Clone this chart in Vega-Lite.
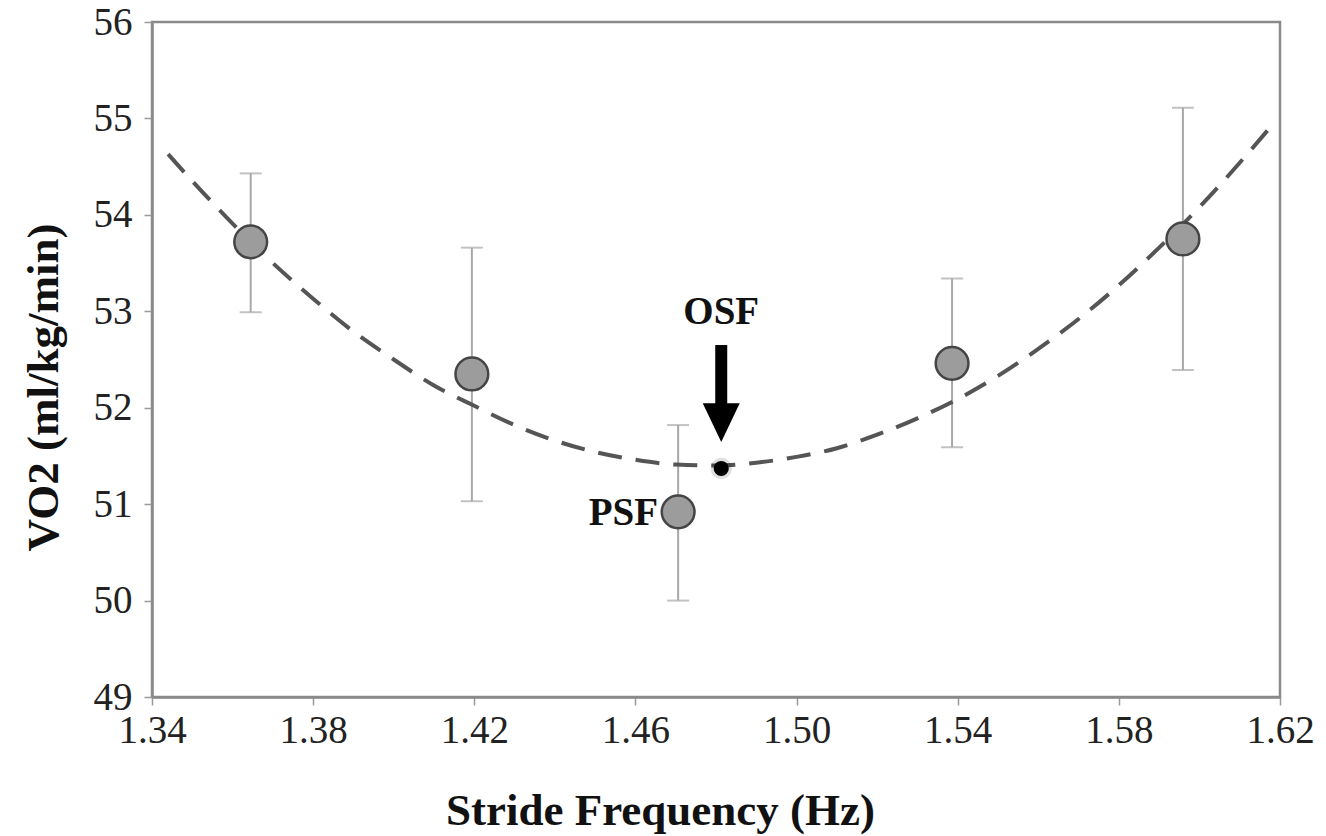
{
  "$schema": "https://vega.github.io/schema/vega-lite/v6.json",
  "autosize": {"type": "none"},
  "width": 1128,
  "height": 675,
  "padding": {"left": 152, "top": 22, "right": 46, "bottom": 139},
  "background": "white",
  "config": {
    "view": {"stroke": "#8a8a8a", "strokeWidth": 2.5},
    "font": "Liberation Serif",
    "axis": {
      "grid": false,
      "domainColor": "#8a8a8a",
      "domainWidth": 2.5,
      "tickColor": "#9a9a9a",
      "tickWidth": 1.5,
      "tickSize": 8,
      "labelFont": "Liberation Serif",
      "labelFontSize": 39,
      "labelColor": "#222222",
      "titleFont": "Liberation Serif",
      "titleFontWeight": "bold",
      "titleFontSize": 45,
      "titleColor": "#111111"
    }
  },
  "datasets": {
    "points": [
      {"sf": 1.3645, "vo2": 53.72, "lo": 52.99, "hi": 54.43},
      {"sf": 1.4194, "vo2": 52.35, "lo": 51.03, "hi": 53.66},
      {"sf": 1.4706, "vo2": 50.92, "lo": 50.0, "hi": 51.82},
      {"sf": 1.5386, "vo2": 52.46, "lo": 51.59, "hi": 53.34},
      {"sf": 1.5959, "vo2": 53.75, "lo": 52.39, "hi": 55.11}
    ],
    "fit": [
      {"sf": 1.344, "vo2": 54.63},
      {"sf": 1.35, "vo2": 54.35},
      {"sf": 1.36, "vo2": 53.91},
      {"sf": 1.37, "vo2": 53.5},
      {"sf": 1.38, "vo2": 53.13},
      {"sf": 1.39, "vo2": 52.79},
      {"sf": 1.4, "vo2": 52.5},
      {"sf": 1.41, "vo2": 52.23},
      {"sf": 1.42, "vo2": 52.02},
      {"sf": 1.43, "vo2": 51.82},
      {"sf": 1.44, "vo2": 51.66},
      {"sf": 1.45, "vo2": 51.54},
      {"sf": 1.46, "vo2": 51.46},
      {"sf": 1.47, "vo2": 51.41},
      {"sf": 1.48, "vo2": 51.4},
      {"sf": 1.49, "vo2": 51.43},
      {"sf": 1.5, "vo2": 51.49},
      {"sf": 1.51, "vo2": 51.58},
      {"sf": 1.52, "vo2": 51.72},
      {"sf": 1.53, "vo2": 51.89},
      {"sf": 1.54, "vo2": 52.09},
      {"sf": 1.55, "vo2": 52.33},
      {"sf": 1.56, "vo2": 52.61},
      {"sf": 1.57, "vo2": 52.92},
      {"sf": 1.58, "vo2": 53.27},
      {"sf": 1.59, "vo2": 53.66},
      {"sf": 1.6, "vo2": 54.08},
      {"sf": 1.61, "vo2": 54.54},
      {"sf": 1.617, "vo2": 54.88}
    ],
    "osf": [{"sf": 1.4813, "vo2": 51.37, "shaftTop": 52.65, "shaftEnd": 52.0, "head": 51.845}],
    "osfLabel": [{"sf": 1.4813, "vo2": 52.99, "text": "OSF"}],
    "psfLabel": [{"sf": 1.4656, "vo2": 50.91, "text": "PSF"}]
  },
  "encoding": {
    "x": {
      "field": "sf",
      "type": "quantitative",
      "scale": {"domain": [1.34, 1.62], "nice": false, "zero": false},
      "axis": {
        "title": "Stride Frequency (Hz)",
        "values": [1.34, 1.38, 1.42, 1.46, 1.5, 1.54, 1.58, 1.62],
        "format": ".2f",
        "labelFont": "Liberation Serif",
        "labelFlush": false,
        "labelOverlap": false,
        "labelPadding": 6,
        "titleX": 508,
        "titleY": 113,
        "titleBaseline": "middle"
      }
    },
    "y": {
      "field": "vo2",
      "type": "quantitative",
      "scale": {"domain": [49, 56], "nice": false, "zero": false},
      "axis": {
        "title": "VO2 (ml/kg/min)",
        "values": [49, 50, 51, 52, 53, 54, 55, 56],
        "labelFont": "Liberation Serif",
        "labelFlush": false,
        "labelOverlap": false,
        "labelPadding": 12,
        "titleX": -109,
        "titleY": 365,
        "titleBaseline": "middle"
      }
    }
  },
  "layer": [
    {
      "data": {"name": "points"},
      "mark": {"type": "rule", "color": "#a8a8a8", "strokeWidth": 2},
      "encoding": {"y": {"field": "lo", "type": "quantitative"}, "y2": {"field": "hi"}}
    },
    {
      "data": {"name": "points"},
      "mark": {"type": "tick", "orient": "horizontal", "color": "#a8a8a8", "thickness": 2, "size": 22},
      "encoding": {"y": {"field": "hi", "type": "quantitative"}}
    },
    {
      "data": {"name": "points"},
      "mark": {"type": "tick", "orient": "horizontal", "color": "#a8a8a8", "thickness": 2, "size": 22},
      "encoding": {"y": {"field": "lo", "type": "quantitative"}}
    },
    {
      "data": {"name": "fit"},
      "mark": {"type": "line", "color": "#555555", "strokeWidth": 4, "strokeDash": [24, 14], "interpolate": "monotone"},
      "encoding": {}
    },
    {
      "data": {"name": "points"},
      "mark": {"type": "point", "shape": "circle", "filled": true, "size": 1075, "fill": "#9c9c9c", "stroke": "#454545", "strokeWidth": 2.5, "opacity": 1}
    },
    {
      "data": {"name": "osf"},
      "mark": {"type": "point", "shape": "circle", "filled": true, "size": 450, "color": "#000000", "opacity": 0.12}
    },
    {
      "data": {"name": "osf"},
      "mark": {"type": "point", "shape": "circle", "filled": true, "size": 230, "color": "#000000", "opacity": 1}
    },
    {
      "data": {"name": "osf"},
      "mark": {"type": "rule", "color": "#000000", "strokeWidth": 12},
      "encoding": {"y": {"field": "shaftTop", "type": "quantitative"}, "y2": {"field": "shaftEnd"}}
    },
    {
      "data": {"name": "osf"},
      "mark": {"type": "point", "shape": "M-1,-1.05L1,-1.05L0,1.05Z", "filled": true, "size": 1369, "color": "#000000", "opacity": 1},
      "encoding": {"y": {"field": "head", "type": "quantitative"}}
    },
    {
      "data": {"name": "osfLabel"},
      "mark": {"type": "text", "font": "Liberation Serif", "fontWeight": "bold", "fontSize": 39, "align": "center", "baseline": "middle", "color": "#111111"},
      "encoding": {"text": {"field": "text"}}
    },
    {
      "data": {"name": "psfLabel"},
      "mark": {"type": "text", "font": "Liberation Serif", "fontWeight": "bold", "fontSize": 39, "align": "right", "baseline": "middle", "color": "#111111"},
      "encoding": {"text": {"field": "text"}}
    }
  ]
}
